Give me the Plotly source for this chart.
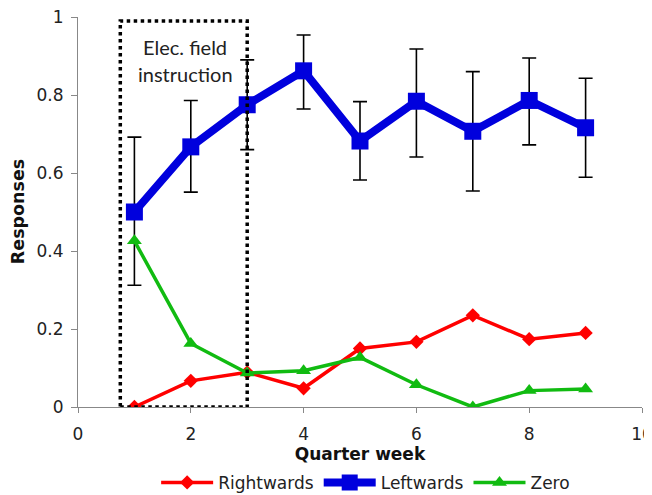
import plotly.graph_objects as go

weeks = [1, 2, 3, 4, 5, 6, 7, 8, 9]
rightwards = [0.0, 0.067, 0.089, 0.048, 0.150, 0.167, 0.235, 0.174, 0.190]
leftwards = [0.500, 0.667, 0.775, 0.862, 0.682, 0.784, 0.707, 0.786, 0.716]
left_err_plus = [0.192, 0.119, 0.115, 0.092, 0.101, 0.134, 0.153, 0.109, 0.127]
left_err_minus = [0.188, 0.116, 0.115, 0.098, 0.100, 0.143, 0.153, 0.114, 0.127]
zero = [0.426, 0.163, 0.087, 0.093, 0.127, 0.057, 0.0, 0.042, 0.046]

fig = go.Figure()
fig.add_trace(go.Scatter(
    x=weeks, y=rightwards, name="Rightwards", mode="lines+markers",
    line=dict(color="#ff0000", width=3.5),
    marker=dict(symbol="diamond", size=11, color="#ff0000"),
))
fig.add_trace(go.Scatter(
    x=weeks, y=leftwards, name="Leftwards", mode="lines+markers",
    line=dict(color="#0000dd", width=8),
    marker=dict(symbol="square", size=17, color="#0000dd"),
    error_y=dict(type="data", array=left_err_plus, arrayminus=left_err_minus,
                 color="black", thickness=1.6, width=7),
))
fig.add_trace(go.Scatter(
    x=weeks, y=zero, name="Zero", mode="lines+markers",
    line=dict(color="#11bb11", width=3.5),
    marker=dict(symbol="triangle-up", size=13, color="#11bb11"),
))

fig.add_shape(type="rect", x0=0.75, x1=3.0, y0=0, y1=0.99,
              line=dict(color="black", width=3.5, dash="dot"), layer="above")
fig.add_annotation(x=1.9, y=0.923, text="Elec. field", showarrow=False,
                   font=dict(family="Lato", size=20, color="#222"))
fig.add_annotation(x=1.9, y=0.855, text="instruction", showarrow=False,
                   font=dict(family="Lato", size=20, color="#222"))
fig.add_annotation(xref="paper", yref="paper", x=-0.106, y=0.5,
                   xanchor="center", yanchor="middle",
                   text="<b>Responses</b>", textangle=-90, showarrow=False,
                   font=dict(size=17.5, color="#111"))

fig.update_layout(
    width=644, height=487,
    margin=dict(l=70, r=10, t=9, b=88, autoexpand=False),
    plot_bgcolor="white", paper_bgcolor="white",
    font=dict(family="DejaVu Sans", size=17, color="#222"),
    showlegend=True,
    legend=dict(orientation="h", x=0.51, xanchor="center",
                yref="container", y=0.025, yanchor="middle",
                font=dict(size=17), itemwidth=52, traceorder="normal"),
    xaxis=dict(range=[0, 10], tickvals=[0, 2, 4, 6, 8, 10], showgrid=False,
               zeroline=False, showline=True, linecolor="#888", linewidth=1,
               ticks="outside", ticklen=5, tickcolor="#888", automargin=False,
               ticklabelstandoff=7, ticklabeloverflow="allow",
               title=dict(text="<b>Quarter week</b>", standoff=4,
                          font=dict(size=17, color="#111"))),
    yaxis=dict(range=[0, 1], tickvals=[0, 0.2, 0.4, 0.6, 0.8, 1], showgrid=False,
               zeroline=False, showline=True, linecolor="#888", linewidth=1,
               ticks="outside", ticklen=6, tickcolor="#888", automargin=False,
               ticklabelstandoff=4, ticklabeloverflow="allow"),
)

fig.write_html("out.html")
